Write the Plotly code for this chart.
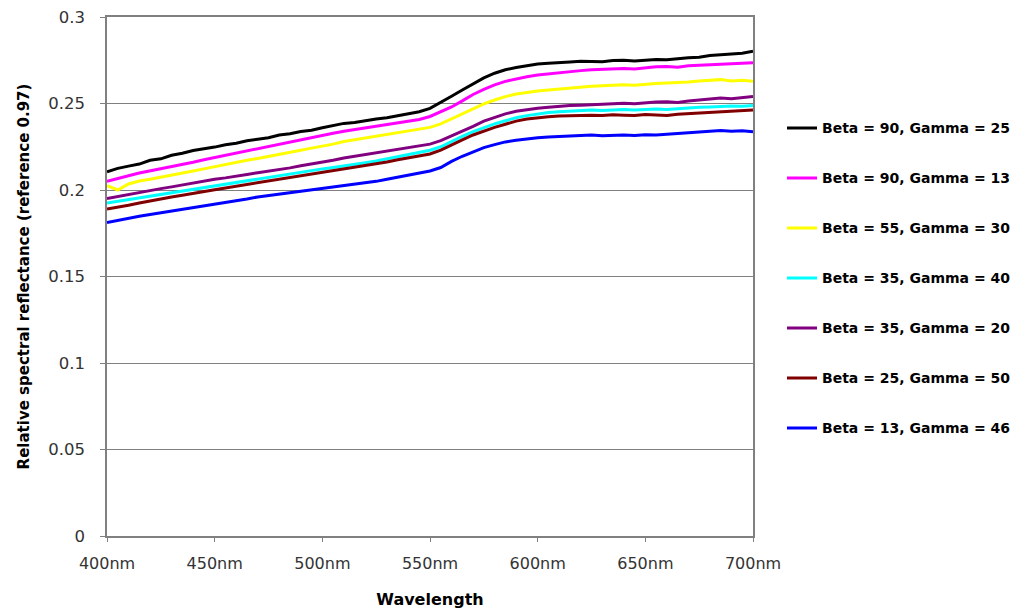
import plotly.graph_objects as go

wavelength = list(range(400, 701, 5))

names = [
    "Beta = 90, Gamma = 25",
    "Beta = 90, Gamma = 13",
    "Beta = 55, Gamma = 30",
    "Beta = 35, Gamma = 40",
    "Beta = 35, Gamma = 20",
    "Beta = 25, Gamma = 50",
    "Beta = 13, Gamma = 46",
]
colors = ["#000000", "#FF00FF", "#FFFF00", "#00FFFF", "#800080", "#800000", "#0000FF"]

beta90_gamma25 = [
    .2105, .2125, .2138, .2150, .2172, .2180, .2201, .2212, .2228, .2236,
    .2248, .2262, .2270, .2285, .2293, .2302, .2318, .2325, .2338, .2345,
    .2360, .2372, .2385, .2390, .2402, .2410, .2418, .2430, .2440, .2452,
    .2472, .2505, .2542, .2578, .2615, .2648, .2675, .2695, .2708, .2720,
    .2728, .2732, .2738, .2740, .2744, .2745, .2742, .2748, .2750, .2746,
    .2752, .2755, .2753, .2760, .2765, .2768, .2778, .2782, .2788, .2790,
    .2802,
]
beta90_gamma13 = [
    .2050, .2068, .2082, .2098, .2110, .2122, .2135, .2146, .2160, .2175,
    .2188, .2200, .2215, .2228, .2240, .2252, .2265, .2278, .2290, .2302,
    .2315, .2328, .2340, .2350, .2362, .2372, .2380, .2388, .2398, .2408,
    .2425, .2452, .2480, .2515, .2552, .2582, .2608, .2628, .2642, .2655,
    .2665, .2672, .2680, .2686, .2690, .2695, .2698, .2700, .2703, .2700,
    .2708, .2712, .2714, .2710, .2718, .2720, .2722, .2726, .2728, .2732,
    .2736,
]
beta55_gamma30 = [
    .2025, .2000, .2035, .2052, .2062, .2075, .2088, .2098, .2110, .2122,
    .2135, .2148, .2160, .2172, .2182, .2195, .2205, .2218, .2230, .2242,
    .2252, .2265, .2280, .2290, .2300, .2312, .2322, .2330, .2340, .2350,
    .2362, .2382, .2410, .2440, .2470, .2498, .2520, .2540, .2555, .2565,
    .2572, .2578, .2584, .2590, .2596, .2600, .2602, .2605, .2608, .2606,
    .2612, .2615, .2618, .2620, .2625, .2630, .2636, .2638, .2630, .2634,
    .2628,
]
beta35_gamma40 = [
    .1925, .1935, .1945, .1955, .1962, .1972, .1982, .1992, .2002, .2012,
    .2022, .2032, .2042, .2052, .2065, .2075, .2085, .2095, .2105, .2113,
    .2122, .2130, .2138, .2148, .2158, .2168, .2180, .2192, .2205, .2218,
    .2230, .2250, .2282, .2310, .2338, .2362, .2382, .2400, .2418, .2430,
    .2440, .2448, .2452, .2456, .2460, .2462, .2460, .2463, .2465, .2462,
    .2466, .2468, .2465, .2470, .2475, .2478, .2480, .2483, .2486, .2484,
    .2488,
]
beta35_gamma20 = [
    .1950, .1962, .1975, .1985, .1995, .2008, .2018, .2030, .2042, .2050,
    .2062, .2070, .2082, .2090, .2100, .2108, .2118, .2128, .2140, .2150,
    .2162, .2172, .2185, .2195, .2205, .2215, .2225, .2235, .2245, .2255,
    .2265, .2285, .2312, .2340, .2368, .2398, .2420, .2440, .2455, .2465,
    .2472, .2478, .2484, .2488, .2490, .2494, .2496, .2500, .2502, .2498,
    .2505, .2508, .2510, .2506, .2515, .2520, .2525, .2532, .2528, .2535,
    .2540,
]
beta25_gamma50 = [
    .1890, .1900, .1912, .1925, .1938, .1950, .1960, .1970, .1982, .1992,
    .2002, .2012, .2022, .2032, .2042, .2050, .2060, .2070, .2080, .2090,
    .2100, .2108, .2118, .2128, .2138, .2150, .2162, .2175, .2185, .2195,
    .2208, .2230, .2262, .2290, .2318, .2342, .2362, .2380, .2398, .2410,
    .2418, .2424, .2428, .2430, .2434, .2432, .2430, .2435, .2432, .2430,
    .2436, .2432, .2430, .2438, .2442, .2446, .2450, .2452, .2456, .2458,
    .2462,
]
beta13_gamma46 = [
    .1812, .1825, .1838, .1848, .1858, .1868, .1878, .1886, .1895, .1905,
    .1915, .1925, .1938, .1948, .1960, .1968, .1975, .1985, .1992, .2000,
    .2008, .2015, .2022, .2030, .2040, .2050, .2062, .2075, .2085, .2098,
    .2110, .2130, .2165, .2195, .2222, .2245, .2262, .2278, .2288, .2296,
    .2302, .2306, .2310, .2312, .2315, .2318, .2314, .2316, .2318, .2315,
    .2320, .2318, .2322, .2326, .2330, .2336, .2340, .2344, .2340, .2342,
    .2336,
]

series = [beta90_gamma25, beta90_gamma13, beta55_gamma30, beta35_gamma40,
          beta35_gamma20, beta25_gamma50, beta13_gamma46]

x_tickvals = [400, 450, 500, 550, 600, 650, 700]
x_ticktext = ["400nm", "450nm", "500nm", "550nm", "600nm", "650nm", "700nm"]
y_tickvals = [0, 0.05, 0.1, 0.15, 0.2, 0.25, 0.3]
y_ticktext = ["0", "0.05", "0.1", "0.15", "0.2", "0.25", "0.3"]

fig = go.Figure()
for i, (nm, col, ys) in enumerate(zip(names, colors, series)):
    fig.add_trace(go.Scatter(
        x=wavelength, y=ys, mode="lines", name=nm,
        line=dict(color=col, width=3),
        legendgroup=f"g{i}",
    ))

font = "DejaVu Sans, Verdana, sans-serif"
fig.update_layout(
    width=1022, height=610,
    margin=dict(l=99, r=277, t=9, b=82),
    plot_bgcolor="white", paper_bgcolor="white",
    font=dict(family=font, size=16, color="#333333"),
    showlegend=True,
    legend=dict(
        x=1.0449, y=0.8163, xanchor="left", yanchor="top",
        font=dict(family=font, size=14, color="#000000", weight="bold"),
        tracegroupgap=28.8, itemwidth=30,
        bgcolor="rgba(0,0,0,0)",
    ),
    xaxis=dict(
        range=[400, 700], tickvals=x_tickvals, ticktext=x_ticktext,
        showgrid=False, showline=True, linecolor="#808080", linewidth=1.5,
        mirror=True, ticks="outside", ticklen=4, tickcolor="#808080",
        ticklabelstandoff=8, ticklabeloverflow="allow",
        zeroline=False, automargin=False,
        tickfont=dict(size=16, color="#333333"),
        title=dict(text="<b>Wavelength</b>", font=dict(size=16, color="#000000"), standoff=22),
    ),
    yaxis=dict(
        range=[0, 0.3], tickvals=y_tickvals, ticktext=y_ticktext,
        showgrid=True, gridcolor="#808080", gridwidth=1,
        showline=True, linecolor="#808080", linewidth=1.5,
        mirror=True, ticks="outside", ticklen=5, tickcolor="#808080",
        ticklabelstandoff=12, ticklabeloverflow="allow",
        zeroline=False, automargin=False,
        tickfont=dict(size=16.5, color="#333333"),
        title=dict(text="<b>Relative spectral reflectance (reference 0.97)</b>",
                   font=dict(size=15, color="#000000"), standoff=15),
    ),
)

fig.write_html("out.html")
